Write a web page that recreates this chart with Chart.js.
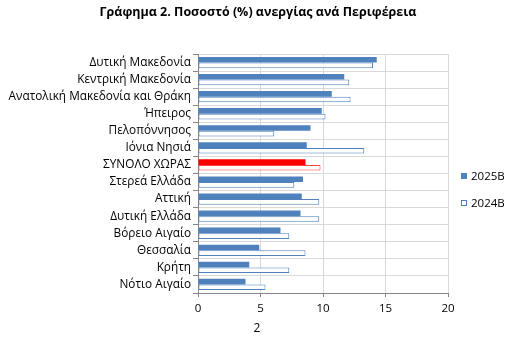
<!DOCTYPE html>
<html>
<head>
<meta charset="utf-8">
<script src="https://cdn.jsdelivr.net/npm/chart.js@4/dist/chart.umd.min.js"></script>
<style>
  html, body { margin: 0; padding: 0; background: #ffffff; }
  #wrap { width: 518px; height: 346px; }
</style>
</head>
<body>
<div id="wrap"><canvas id="c" width="518" height="346"></canvas></div>
<script>
// Unemployment rate (%) by region
const regions = [
  'Δυτική Μακεδονία',
  'Κεντρική Μακεδονία',
  'Ανατολική Μακεδονία και Θράκη',
  'Ήπειρος',
  'Πελοπόννησος',
  'Ιόνια Νησιά',
  'ΣΥΝΟΛΟ ΧΩΡΑΣ',
  'Στερεά Ελλάδα',
  'Αττική',
  'Δυτική Ελλάδα',
  'Βόρειο Αιγαίο',
  'Θεσσαλία',
  'Κρήτη',
  'Νότιο Αιγαίο'
];
const rate2025 = [14.3, 11.7, 10.7, 9.9, 9.0, 8.7, 8.6, 8.4, 8.3, 8.2, 6.6, 4.9, 4.1, 3.8];
const rate2024 = [14.0, 12.1, 12.2, 10.2, 6.1, 13.3, 9.8, 7.7, 9.7, 9.7, 7.3, 8.6, 7.3, 5.4];
const seriesNames = ['2025B', '2024B'];
const xTicks = [0, 5, 10, 15, 20];
const chartTitle = 'Γράφημα 2. Ποσοστό (%) ανεργίας ανά Περιφέρεια';
const pageNumber = '2';
const totalLabel = 'ΣΥΝΟΛΟ ΧΩΡΑΣ';

const BLUE = '#4F81BD';
const RED = '#FF0000';
const FONT = '"Open Sans", "Noto Sans", "DejaVu Sans", sans-serif';

const isTotal = regions.map(r => r === totalLabel);
const fill2025 = isTotal.map(t => t ? RED : BLUE);
const border2024 = isTotal.map(t => t ? '#FF4040' : BLUE);

// Title, side legend and page number
const decorations = {
  id: 'decorations',
  afterDraw(chart) {
    const ctx = chart.ctx;
    ctx.save();
    ctx.fillStyle = '#000';
    ctx.textBaseline = 'middle';
    ctx.textAlign = 'center';
    ctx.font = 'bold 12.5px ' + FONT;
    ctx.fillText(chartTitle, 258, 12);

    ctx.textAlign = 'left';
    ctx.font = '11.5px ' + FONT;
    // filled swatch
    ctx.fillStyle = BLUE;
    ctx.fillRect(461, 173, 6, 6);
    ctx.fillStyle = '#000';
    ctx.fillText(seriesNames[0], 471, 176.5);
    // outlined swatch
    ctx.strokeStyle = BLUE;
    ctx.lineWidth = 1;
    ctx.strokeRect(461.5, 200.5, 5, 5);
    ctx.fillText(seriesNames[1], 471, 203.5);

    ctx.textAlign = 'center';
    ctx.font = '12px ' + FONT;
    ctx.fillText(pageNumber, 257, 329);
    ctx.restore();
  }
};

new Chart(document.getElementById('c'), {
  type: 'bar',
  data: {
    labels: regions,
    datasets: [
      {
        label: seriesNames[0],
        data: rate2025,
        backgroundColor: fill2025,
        borderWidth: 0,
        categoryPercentage: 0.66,
        barPercentage: 1.0
      },
      {
        label: seriesNames[1],
        data: rate2024,
        backgroundColor: '#ffffff',
        borderColor: border2024,
        borderWidth: 1,
        borderSkipped: false,
        categoryPercentage: 0.66,
        barPercentage: 1.0
      }
    ]
  },
  options: {
    indexAxis: 'y',
    responsive: false,
    animation: false,
    devicePixelRatio: 1,
    layout: { padding: { top: 54, left: 4, right: 70, bottom: 0 } },
    plugins: {
      legend: { display: false },
      title: { display: false },
      tooltip: { enabled: false }
    },
    scales: {
      x: {
        type: 'linear',
        min: xTicks[0],
        max: xTicks[xTicks.length - 1],
        afterBuildTicks(scale) { scale.ticks = xTicks.map(v => ({ value: v })); },
        afterFit(scale) { scale.height = 53; },
        grid: { color: '#D9D9D9', tickColor: '#868686', tickLength: 4, drawTicks: true },
        border: { color: '#868686', width: 1 },
        ticks: { color: '#000', font: { family: FONT, size: 11.5 }, padding: 5 }
      },
      y: {
        afterFit(scale) { scale.width = 194; },
        grid: { color: '#D9D9D9', tickColor: '#868686', tickLength: 5, offset: true },
        border: { color: '#868686', width: 1 },
        ticks: { color: '#000', font: { family: FONT, size: 11.8 }, padding: 2, autoSkip: false }
      }
    }
  },
  plugins: [decorations]
});
</script>
</body>
</html>
